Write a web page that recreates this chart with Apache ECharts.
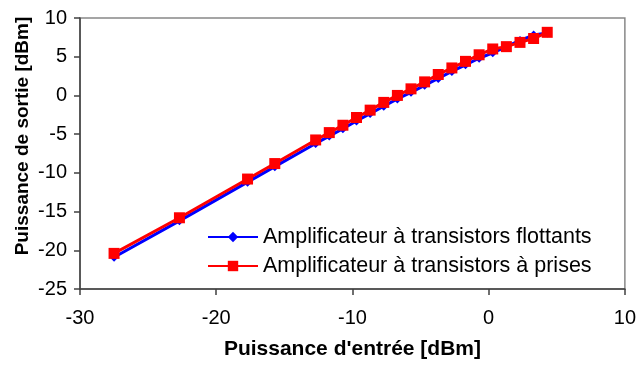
<!DOCTYPE html>
<html>
<head>
<meta charset="utf-8">
<script src="https://cdn.jsdelivr.net/npm/echarts@6/dist/echarts.min.js"></script>
<style>
html,body{margin:0;padding:0;background:#fff;}
#chart{width:639px;height:369px;}
</style>
</head>
<body>
<div id="chart"></div>
<script>
const inputPower = [-27.5, -22.7, -17.7, -15.7, -12.7, -11.7, -10.7, -9.7, -8.7, -7.7, -6.7, -5.7, -4.7, -3.7, -2.7, -1.7, -0.7, 0.3, 1.3, 2.3, 3.3, 4.3];
const floatingOut = [-20.9, -16.2, -11.2, -9.2, -6.2, -5.25, -4.3, -3.3, -2.35, -1.4, -0.45, 0.4, 1.3, 2.2, 3.1, 3.95, 4.8, 5.5, 6.3, 7.1, 7.8, 8.05];
const tappedOut = [-20.4, -15.8, -10.8, -8.8, -5.75, -4.8, -3.85, -2.85, -1.9, -0.9, 0.0, 0.85, 1.75, 2.7, 3.55, 4.4, 5.25, 6.0, 6.3, 6.85, 7.35, 8.15];
const seriesNames = ['Amplificateur à transistors flottants', 'Amplificateur à transistors à prises'];
const xTitle = "Puissance d'entrée [dBm]";
const yTitle = 'Puissance de sortie [dBm]';
const xRange = [-30, 10, 10];
const yRange = [-25, 10, 5];

const font = '"Liberation Sans", Arial, sans-serif';
const chart = echarts.init(document.getElementById('chart'));
const pairs = (xs, ys) => xs.map((x, i) => [x, ys[i]]);
chart.setOption({
  animation: false,
  backgroundColor: '#fff',
  grid: { left: 80, right: 12, top: 18, bottom: 80, show: true, borderColor: '#888', borderWidth: 1.5 },
  xAxis: {
    type: 'value', min: xRange[0], max: xRange[1], interval: xRange[2],
    name: xTitle, nameLocation: 'middle', nameGap: 50,
    nameTextStyle: { fontFamily: font, fontSize: 21, fontWeight: 'bold', color: '#000' },
    axisLine: { show: true, onZero: false, lineStyle: { color: '#404040', width: 1.5 } },
    axisTick: { show: true, inside: false, length: 6, lineStyle: { color: '#404040', width: 1.5 } },
    axisLabel: { margin: 19, fontFamily: font, fontSize: 20, color: '#000' },
    splitLine: { show: false }
  },
  yAxis: {
    type: 'value', min: yRange[0], max: yRange[1], interval: yRange[2],
    axisLine: { show: true, onZero: false, lineStyle: { color: '#404040', width: 1.5 } },
    axisTick: { show: true, inside: false, length: 6, lineStyle: { color: '#404040', width: 1.5 } },
    axisLabel: { margin: 13, fontFamily: font, fontSize: 20, color: '#000' },
    splitLine: { show: false }
  },
  graphic: [{
    type: 'text', rotation: Math.PI / 2,
    x: 23, y: 136,
    style: { text: yTitle, font: 'bold 19px ' + font, fill: '#000', textAlign: 'center', textVerticalAlign: 'middle' }
  }],
  legend: {
    orient: 'vertical', left: 207, top: 226, padding: 0,
    itemWidth: 50, itemHeight: 13, itemGap: 7,
    textStyle: { fontFamily: font, fontSize: 21.5, color: '#000' },
    data: seriesNames
  },
  series: [
    {
      name: seriesNames[0], type: 'line', data: pairs(inputPower, floatingOut),
      symbol: 'diamond', symbolSize: 9, color: '#0000ff',
      lineStyle: { color: '#0000ff', width: 3 }, itemStyle: { color: '#0000ff' }
    },
    {
      name: seriesNames[1], type: 'line', data: pairs(inputPower, tappedOut),
      symbol: 'rect', symbolSize: 11, color: '#ff0000',
      lineStyle: { color: '#ff0000', width: 3 }, itemStyle: { color: '#ff0000' }
    }
  ]
});
</script>
</body>
</html>
